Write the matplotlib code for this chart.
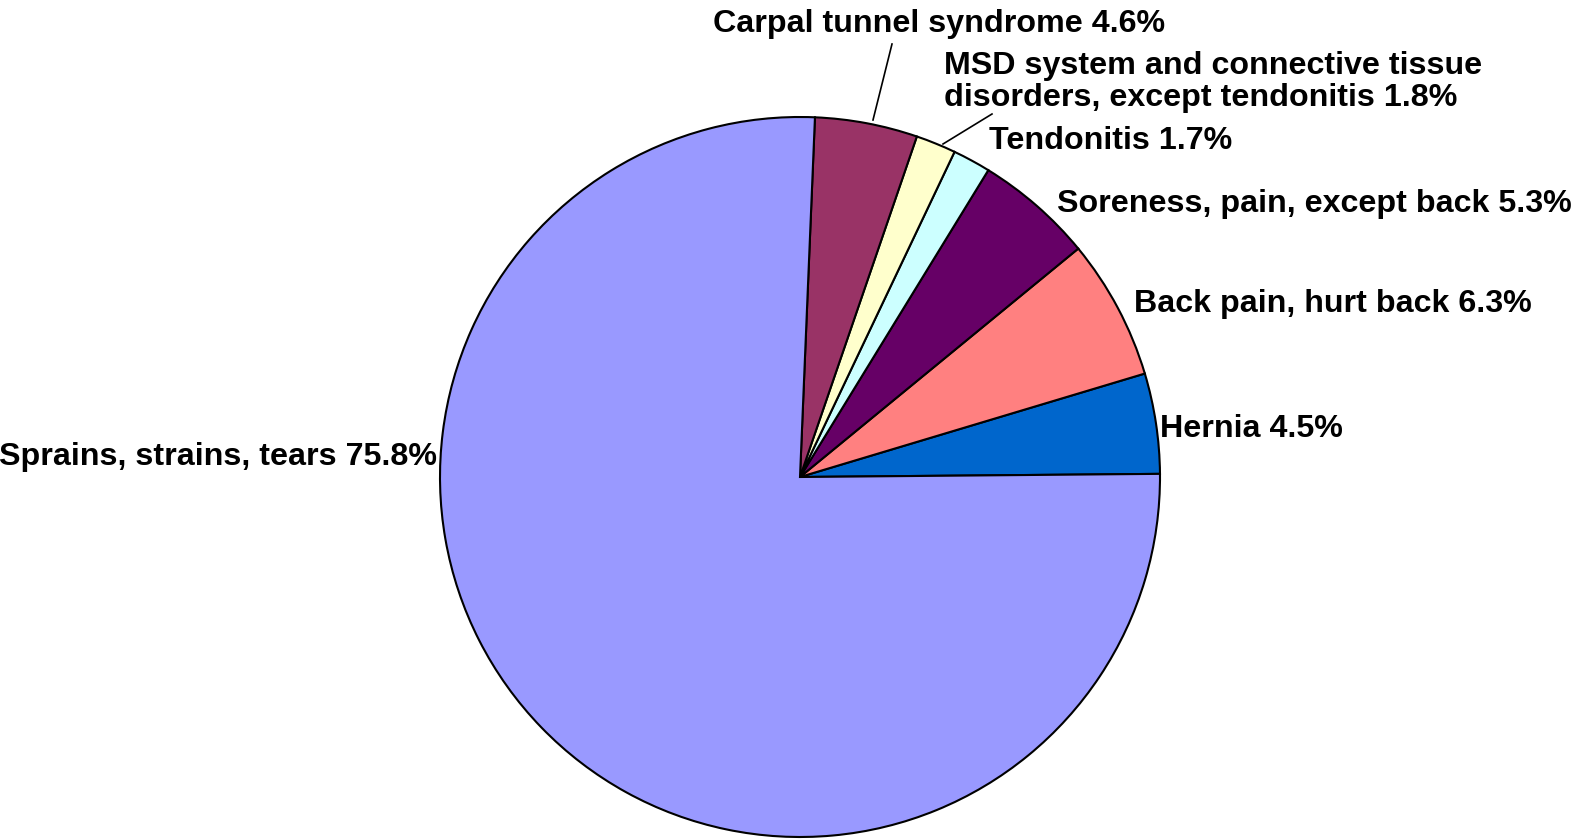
import numpy as np
import matplotlib
matplotlib.use("Agg")
import matplotlib.pyplot as plt

# ==========================================
# Data
# ==========================================
categories = ["Hernia", "Back pain, hurt back", "Soreness, pain, except back",
              "Tendonitis", "MSD system and connective tissue\ndisorders, except tendonitis",
              "Carpal tunnel syndrome", "Sprains, strains, tears"]
shares = [4.5, 6.3, 5.3, 1.7, 1.8, 4.6, 75.8]
colors = ["#0066CC", "#FF8080", "#660066", "#CCFFFF", "#FFFFCC", "#993366", "#9999FF"]

W, H, DPI = 1574, 840, 100
CX, CY, R = 800, 477, 360  # pie centre / radius in pixels (from top)

plt.rcParams['font.family'] = ['Liberation Sans', 'DejaVu Sans']

fig = plt.figure(figsize=(W / DPI, H / DPI), dpi=DPI)
ax = fig.add_axes([(CX - R) / W, (H - CY - R) / H, 2 * R / W, 2 * R / H])
ax.pie(shares, colors=colors, startangle=0.5, counterclock=True,
       wedgeprops=dict(edgecolor="black", linewidth=1.5))
ax.set_xlim(-1, 1)
ax.set_ylim(-1, 1)
ax.set_aspect("equal")
ax.axis("off")


def px(x, y):
    # pixel coords (top-left origin) -> data coords of the pie axes
    return (x - CX) / R, (CY - y) / R


# label anchor pixels: (x, y, ha)
label_pos = [(1160, 429, "left"), (1134, 304, "left"), (1057, 204, "left"),
             (989, 141, "left"), (944, 82, "left"), (713, 24, "left"),
             (437, 457, "right")]

for cat, val, (lx, ly, ha) in zip(categories, shares, label_pos):
    tx, ty = px(lx, ly)
    ax.text(tx, ty, f"{cat} {val}%", ha=ha, va="center", fontsize=23.2,
            fontweight="bold", linespacing=1.12, clip_on=False)

# leader lines for the small top slices
for (x0, y0), (x1, y1) in [((873, 120), (892, 44)), ((943, 144), (992, 114))]:
    a, b = px(x0, y0)
    c, d = px(x1, y1)
    ax.plot([a, c], [b, d], color="black", linewidth=1.2, clip_on=False)

fig.savefig("out.png", dpi=DPI, facecolor="white")
